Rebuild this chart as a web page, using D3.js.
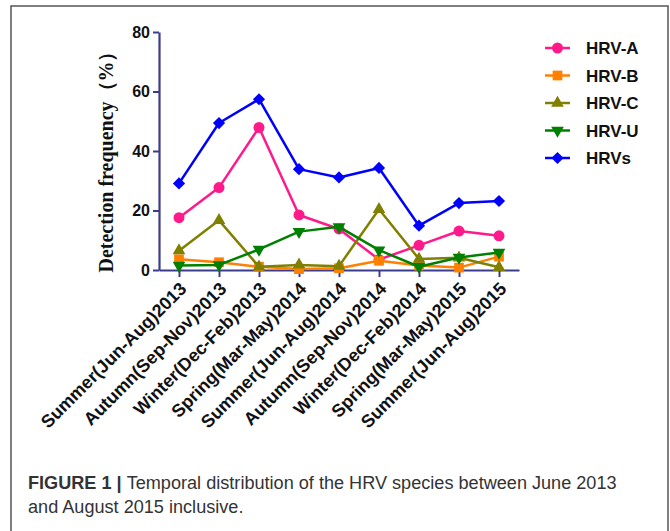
<!DOCTYPE html>
<html><head><meta charset="utf-8">
<script src="https://cdn.jsdelivr.net/npm/d3@7"></script>
<style>body{margin:0;background:#fff}svg{display:block}</style>
</head><body>
<svg id="c" width="670" height="531"></svg>
<script>
const categories = ["Summer(Jun-Aug)2013","Autumn(Sep-Nov)2013","Winter(Dec-Feb)2013","Spring(Mar-May)2014","Summer(Jun-Aug)2014","Autumn(Sep-Nov)2014","Winter(Dec-Feb)2014","Spring(Mar-May)2015","Summer(Jun-Aug)2015"];
const hrvA = [17.6, 27.7, 47.9, 18.5, 13.8, 3.5, 8.3, 13.1, 11.5];
const hrvB = [3.6, 2.6, 1.1, 0.3, 0.6, 3.1, 1.5, 0.8, 4.5];
const hrvC = [6.5, 16.7, 1.1, 1.7, 1.3, 20.4, 3.7, 4.1, 0.9];
const hrvU = [1.5, 1.7, 6.9, 12.9, 14.5, 6.7, 1.1, 4.2, 5.9];
const hrvs = [29.1, 49.4, 57.4, 33.9, 31.1, 34.3, 14.9, 22.5, 23.2];
const seriesNames = ["HRV-A","HRV-B","HRV-C","HRV-U","HRVs"];
const yTicks = [0, 20, 40, 60, 80];

const seriesData = [hrvA, hrvB, hrvC, hrvU, hrvs];
const colors = ["#ff1a8c", "#ff8000", "#808000", "#008000", "#0000ff"];
const symbols = [
  {t: d3.symbolCircle, s: 95, r: 0},
  {t: d3.symbolSquare, s: 95, r: 0},
  {t: d3.symbolTriangle, s: 70, r: 0},
  {t: d3.symbolTriangle, s: 70, r: 180},
  {t: d3.symbolDiamond2, s: 95, r: 0}
];

const svg = d3.select("#c");
const axisColor = "#3c3c8c";

// frame
svg.append("rect").attr("x", 11).attr("y", 6).attr("width", 657).attr("height", 540)
  .attr("fill", "none").attr("stroke", "#555").attr("stroke-width", 1.5);

const x = d3.scalePoint().domain(categories).range([159, 519]).padding(0.5);
const y = d3.scaleLinear().domain([0, 80]).range([270, 32]);

// y axis
const ya = svg.append("g").attr("transform", "translate(159,0)")
  .call(d3.axisLeft(y).tickValues(yTicks).tickSize(6).tickSizeOuter(0).tickPadding(3));
ya.select(".domain").attr("stroke", axisColor).attr("stroke-width", 2.2);
ya.selectAll(".tick line").attr("stroke", axisColor).attr("stroke-width", 2);
ya.selectAll(".tick text").attr("fill", "#111").attr("font-family", "Arial, 'Liberation Sans', sans-serif")
  .attr("font-weight", "bold").attr("font-size", 16);

// x axis
const xa = svg.append("g").attr("transform", "translate(0,270)")
  .call(d3.axisBottom(x).tickSize(7).tickSizeOuter(0));
xa.select(".domain").attr("stroke", axisColor).attr("stroke-width", 2.2);
xa.selectAll(".tick line").attr("stroke", axisColor).attr("stroke-width", 2);
xa.selectAll(".tick text")
  .attr("fill", "#111").attr("font-family", "Arial, 'Liberation Sans', sans-serif")
  .attr("font-weight", "bold").attr("font-size", 18)
  .attr("text-anchor", "end").attr("dy", 0).attr("y", 0)
  .attr("transform", "translate(8,20) rotate(-45)");

// y title
const yt = svg.append("text").attr("transform", "translate(113,157) rotate(-90)")
  .attr("text-anchor", "middle")
  .attr("font-family", "'Times New Roman', 'Liberation Serif', serif")
  .attr("font-weight", "bold").attr("font-size", 20).attr("fill", "#111")
  .text("Detection frequency（%）");
const ytl = yt.node().getComputedTextLength();
yt.attr("font-size", 20 * 231 / ytl);

// series
const line = d3.line().x((d, i) => x(categories[i])).y(d => y(d));
seriesData.forEach((vals, k) => {
  const g = svg.append("g");
  g.append("path").datum(vals).attr("d", line).attr("fill", "none")
    .attr("stroke", colors[k]).attr("stroke-width", 2.5).attr("stroke-linejoin", "round");
  g.selectAll("path.m").data(vals).enter().append("path").attr("class", "m")
    .attr("d", d3.symbol().type(symbols[k].t).size(symbols[k].s))
    .attr("transform", (d, i) => `translate(${x(categories[i])},${y(d)}) rotate(${symbols[k].r})`)
    .attr("fill", colors[k]);
});

// legend
const lg = svg.append("g");
seriesNames.forEach((n, k) => {
  const yy = 48 + k * 27.5;
  lg.append("line").attr("x1", 545).attr("x2", 570).attr("y1", yy).attr("y2", yy)
    .attr("stroke", colors[k]).attr("stroke-width", 2.5);
  lg.append("path").attr("d", d3.symbol().type(symbols[k].t).size(symbols[k].s))
    .attr("transform", `translate(557.5,${yy}) rotate(${symbols[k].r})`).attr("fill", colors[k]);
  lg.append("text").attr("x", 586).attr("y", yy).attr("dy", "0.36em")
    .attr("font-family", "Arial, 'Liberation Sans', sans-serif").attr("font-weight", "bold")
    .attr("font-size", 17).attr("fill", "#111").text(n);
});

// caption
const cap = svg.append("g").attr("font-family", "'Liberation Sans', Arial, sans-serif")
  .attr("font-size", 16).attr("fill", "#333");
const t1 = cap.append("text").attr("x", 28).attr("y", 489);
t1.append("tspan").attr("font-weight", "bold").text("FIGURE 1 | ");
t1.append("tspan").text("Temporal distribution of the HRV species between June 2013");
const t2 = cap.append("text").attr("x", 28).attr("y", 513).text("and August 2015 inclusive.");
const cl = t1.node().getComputedTextLength();
cap.attr("font-size", 16 * 589 / cl);
</script>
</body></html>
